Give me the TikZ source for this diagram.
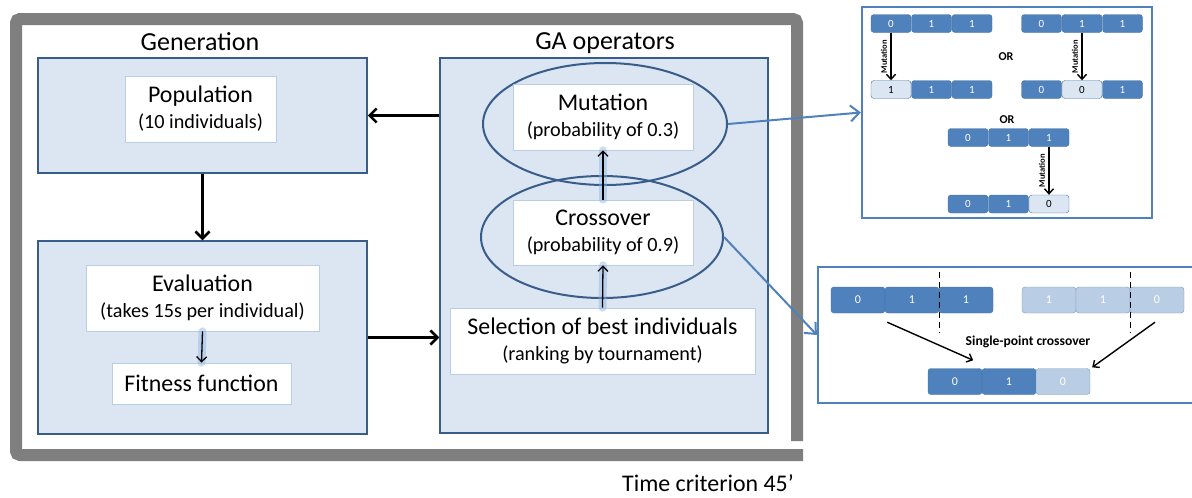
\documentclass[tikz,border=0pt]{standalone}
\usepackage{fontspec}
\setmainfont{Carlito}
\usetikzlibrary{arrows.meta,shapes.geometric,calc}

\definecolor{framegray}{HTML}{7F7F7F}
\definecolor{boxfill}{HTML}{DCE6F2}
\definecolor{boxline}{HTML}{385D8A}
\definecolor{paleline}{HTML}{B9CDE5}
\definecolor{linkblue}{HTML}{4F81BD}
\definecolor{celldark}{HTML}{4F81BD}
\definecolor{cellline}{HTML}{41719C}
\definecolor{celllight}{HTML}{DCE6F2}
\definecolor{cellpale}{HTML}{B9CDE5}
\definecolor{glowblue}{HTML}{8DB3E2}

\newcommand\titletxt{\fontsize{26}{28}\selectfont}
\newcommand\bigtxt{\fontsize{23.9}{26}\selectfont}
\newcommand\smalltxt{\fontsize{20.2}{26}\selectfont}

\begin{document}
\begin{tikzpicture}[x=1pt,y=-1pt,
    container/.style={draw=boxline,line width=1.5pt,fill=boxfill,inner sep=0},
    card/.style={draw=paleline,line width=0.8pt,fill=white,align=center,inner sep=0,font=\smalltxt},
    ring/.style={ellipse,draw=boxline,line width=2pt,inner sep=0},
    flow/.style={line width=2.6pt,-{Straight Barb[length=7pt,width=14pt]}},
    lift/.style={line width=1.3pt,-{Straight Barb[length=5pt,width=10pt]}},
    glow/.style={line width=8pt,glowblue,opacity=0.45,line cap=round},
    link/.style={linkblue,line width=2pt,-{Straight Barb[length=9pt,width=16pt]}},
    panel/.style={draw=linkblue,line width=2.2pt,inner sep=0},
    bit/.style={rounded corners=3pt,draw=cellline,fill=celldark,text=white,inner sep=0,
        minimum width=40pt,minimum height=18pt,font=\fontsize{11}{11}\selectfont},
    bitlight/.style={bit,fill=celllight,text=black},
    bigbit/.style={bit,minimum width=54pt,minimum height=26pt,font=\fontsize{12}{12}\selectfont},
    bigbitpale/.style={bigbit,fill=cellpale,draw=cellline!70},
    mutarrow/.style={line width=1.4pt,-{Straight Barb[length=5pt,width=9pt]}},
    cut/.style={line width=1.4pt,dash pattern=on 6pt off 4pt}]

    \useasboundingbox (0,0) rectangle (1192,498);
    \clip (0,0) rectangle (1192,498);

    % time loop
    \draw[framegray,line width=12pt,rounded corners=4pt]
        (797,441) -- (797,19) -- (16,19) -- (16,455) -- (803,455);
    \node (timelbl) at (708,483) {\bigtxt Time criterion 45’};

    % generation side
    \node (gentitle) at (200,42) {\titletxt Generation};
    \node[container,minimum width=329pt,minimum height=115pt] (genbox) at (202.5,115.5) {};
    \node[container,minimum width=329pt,minimum height=193pt] (evalbox) at (202.5,337.5) {};
    \node[card,minimum width=151pt,minimum height=66pt] (pop) at (200.5,109)
        {{\bigtxt Population}\\(10 individuals)};
    \node[card,minimum width=233pt,minimum height=66pt] (eval) at (202.5,298)
        {{\bigtxt Evaluation}\\(takes 15s per individual)};
    \node[card,minimum width=179pt,minimum height=41pt] (fit) at (201.5,383.5)
        {\bigtxt Fitness function};

    % GA operators
    \node (gatitle) at (605,43) {\titletxt GA operators};
    \node[container,minimum width=328pt,minimum height=375pt] (gabox) at (604,245.5) {};
    \node[ring,minimum width=244pt,minimum height=122pt] (mutring) at (605,124) {};
    \node[ring,minimum width=242pt,minimum height=122pt] (crossring) at (602,237) {};
    \node[card,minimum width=180pt,minimum height=66pt] (mut) at (603,117)
        {{\bigtxt Mutation}\\(probability of 0.3)};
    \node[card,minimum width=180pt,minimum height=65pt] (cross) at (603,232.5)
        {{\bigtxt Crossover}\\(probability of 0.9)};
    \node[card,minimum width=305pt,minimum height=66pt] (sel) at (602.5,341)
        {{\bigtxt Selection of best individuals}\\(ranking by tournament)};

    % main flow
    \draw[flow] (genbox.south) -- (evalbox.north);
    \draw[flow] (evalbox.east) -- (evalbox.east -| gabox.west);
    \draw[flow] (gabox.west |- genbox.east) -- (genbox.east);
    \draw[glow] (eval.south) -- (fit.north);
    \draw[lift] (eval.south) -- (fit.north);
    \draw[glow] (sel.north) -- (cross.south);
    \draw[lift] (sel.north) -- (cross.south);
    \draw[glow] (cross.north) -- (mut.south);
    \draw[lift] (cross.north) -- (mut.south);

    % mutation examples
    \node[panel,minimum width=290pt,minimum height=211pt] (mutpanel) at (1007,112.5) {};
    \foreach \v/\s [count=\i] in {0/bit,1/bit,1/bit} {
        \node[\s] (ma\i) at (850.5+40.5*\i,23.5) {\v};
        \node[\s] (mc\i) at (1001+40.5*\i,23.5) {\v};
        \node[\s] (me\i) at (927.5+40.5*\i,137.5) {\v};
    }
    \foreach \v/\s [count=\i] in {1/bitlight,1/bit,1/bit} {
        \node[\s] (mb\i) at (850.5+40.5*\i,89.5) {\v};
    }
    \foreach \v/\s [count=\i] in {0/bit,0/bitlight,1/bit} {
        \node[\s] (md\i) at (1001+40.5*\i,89.5) {\v};
    }
    \foreach \v/\s [count=\i] in {0/bit,1/bit,0/bitlight} {
        \node[\s] (mf\i) at (927.5+40.5*\i,204) {\v};
    }
    \draw[mutarrow] (ma1.south) -- (mb1.north)
        node[midway,rotate=90,anchor=south,font=\bfseries\fontsize{8.5}{9}\selectfont] {Mutation};
    \draw[mutarrow] (mc2.south) -- (md2.north)
        node[midway,rotate=90,anchor=south,font=\bfseries\fontsize{8.5}{9}\selectfont] {Mutation};
    \draw[mutarrow] (me3.south) -- (mf3.north)
        node[midway,rotate=90,anchor=south,font=\bfseries\fontsize{8.5}{9}\selectfont] {Mutation};
    \node[font=\bfseries\fontsize{12}{12}\selectfont] (or1) at (1006,57) {OR};
    \node[font=\bfseries\fontsize{12}{12}\selectfont] (or2) at (1007,120) {OR};

    % crossover example
    \node[panel,minimum width=382pt,minimum height=136pt] (xpanel) at (1009,335) {};
    \foreach \v [count=\i] in {0,1,1} {
        \node[bigbit] (xa\i) at (804+54*\i,300) {\v};
    }
    \foreach \v [count=\i] in {1,1,0} {
        \node[bigbitpale] (xb\i) at (995+54*\i,300) {\v};
    }
    \foreach \v/\s [count=\i] in {0/bigbit,1/bigbit,0/bigbitpale} {
        \node[\s] (xc\i) at (901+54*\i,381.5) {\v};
    }
    \draw[cut] ($(xa2.north east)+(0,-15)$) -- ($(xa2.south east)+(0,20)$);
    \draw[cut] ($(xb2.north east)+(0,-15)$) -- ($(xb2.south east)+(0,20)$);
    \node[font=\bfseries\fontsize{13.6}{14}\selectfont] (xlbl) at (1028,342) {Single-point crossover};
    \coordinate (xsa) at ($(xa1.south east)+(2,9)$);
    \coordinate (xea) at ($(xc1.north east)+(-9,-8)$);
    \coordinate (xsb) at ($(xb3.south)+(-2,9)$);
    \coordinate (xeb) at ($(xc3.north east)+(2,-1)$);
    \draw[mutarrow] (xsa) -- (xea);
    \draw[mutarrow] (xsb) -- (xeb);

    % links to the examples
    \draw[link] (mutring.east) -- (mutpanel.west);
    \draw[link] (crossring.east) -- (xpanel.west);
\end{tikzpicture}
\end{document}
